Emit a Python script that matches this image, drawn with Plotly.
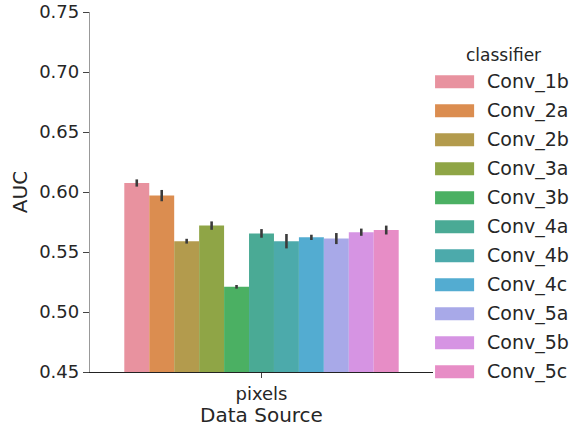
import plotly.graph_objects as go

classifiers = ["Conv_1b", "Conv_2a", "Conv_2b", "Conv_3a", "Conv_3b", "Conv_4a",
               "Conv_4b", "Conv_4c", "Conv_5a", "Conv_5b", "Conv_5c"]
auc = [0.6075, 0.597, 0.559, 0.572, 0.521, 0.5655, 0.559, 0.5622, 0.5612, 0.5665, 0.5683]
err = [0.003, 0.0047, 0.002, 0.0035, 0.0015, 0.0036, 0.006, 0.0022, 0.0046, 0.003, 0.0037]
colors = ["#e8929f", "#db8d50", "#b39b4d", "#8fa546", "#4bb063", "#4aaa95",
          "#4caaab", "#53acd1", "#a8a9e8", "#d694e3", "#e78dc6"]
category = "pixels"

font = "DejaVu Sans, Verdana, sans-serif"
fig = go.Figure()
for name, v, e, c in zip(classifiers, auc, err, colors):
    fig.add_trace(go.Bar(
        x=[category], y=[v], name=name, marker=dict(color=c, line=dict(width=0)),
        error_y=dict(type="data", array=[e], color="#3b3b3b", thickness=2.6, width=0),
        showlegend=False,
    ))

# custom legend (seaborn style)
x0, y_top, step = 1.006, 0.806, 29 / 360
shapes = []
annotations = [dict(x=x0 + 68 / 342.5, y=0.88, xref="paper", yref="paper", text="classifier",
                    showarrow=False, xanchor="center", yanchor="middle",
                    font=dict(family=font, size=17, color="#262626"))]
for i, (name, c) in enumerate(zip(classifiers, colors)):
    yc = y_top - i * step
    shapes.append(dict(type="rect", xref="paper", yref="paper",
                       x0=x0, x1=x0 + 39 / 342.5, y0=yc - 6.5 / 360, y1=yc + 6.5 / 360,
                       fillcolor=c, line=dict(width=0)))
    annotations.append(dict(x=x0 + 50 / 342.5, y=yc, xref="paper", yref="paper", text=name,
                            showarrow=False, xanchor="left", yanchor="middle",
                            font=dict(family=font, size=19, color="#262626")))

fig.update_layout(
    width=571, height=427,
    margin=dict(l=90, r=138, t=12, b=55),
    plot_bgcolor="white", paper_bgcolor="white",
    barmode="group", bargap=0.2, bargroupgap=0,
    font=dict(family=font, color="#262626"),
    shapes=shapes, annotations=annotations,
    xaxis=dict(range=[-0.5, 0.5], showgrid=False, zeroline=False, automargin=False,
               showline=True, linecolor="#222222", linewidth=1.2,
               ticks="outside", ticklen=5, tickcolor="#444444", tickwidth=1,
               tickfont=dict(size=18, family=font, color="#262626"),
               title=dict(text="Data Source", font=dict(size=20, family=font, color="#262626"), standoff=2)),
    yaxis=dict(range=[0.45, 0.75], tickvals=[0.45, 0.5, 0.55, 0.6, 0.65, 0.7, 0.75],
               tickformat=".2f", showgrid=False, zeroline=False, automargin=False,
               showline=True, linecolor="#999999", linewidth=1.3,
               ticks="outside", ticklen=6, tickcolor="#444444", tickwidth=1,
               tickfont=dict(size=18, family=font, color="#262626"),
               title=dict(text="AUC", font=dict(size=20, family=font, color="#262626"), standoff=6)),
)

fig.write_html("out.html")
